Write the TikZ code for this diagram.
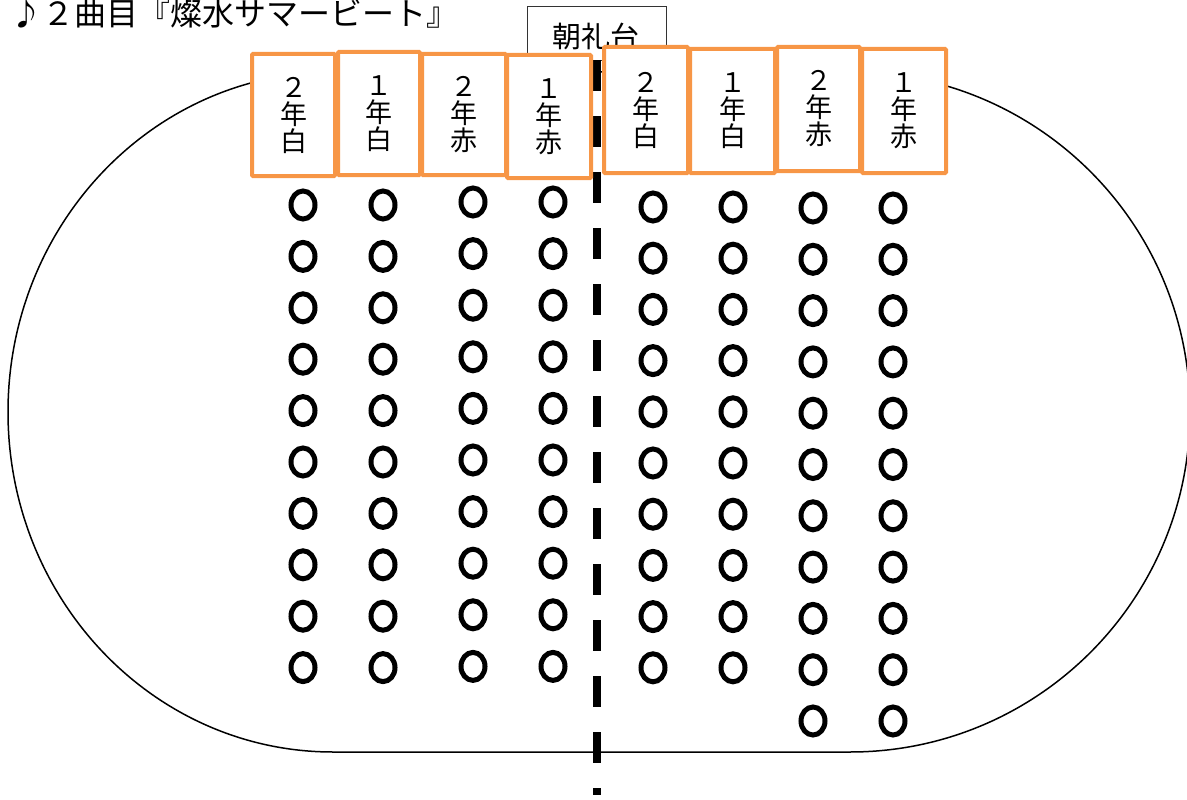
\documentclass[tikz,border=0pt]{standalone}
\usepackage{fontspec}
\setmainfont{Noto Sans CJK JP}
\usetikzlibrary{shapes.geometric}
\definecolor{boxorange}{HTML}{F79646}
\tikzset{
  track/.style={draw=black, line width=1.5pt},
  stage/.style={draw=black!80, line width=1pt, fill=white, minimum width=139pt, minimum height=54pt, inner sep=0pt},
  grp/.style={draw=boxorange, line width=4pt, fill=white, rounded corners=1pt, inner sep=0pt, align=center, font=\fontsize{27}{27}\selectfont},
  seat/.style={draw=black, line width=5pt, ellipse, minimum width=24pt, minimum height=28pt, inner sep=0pt},
  divider/.style={draw=black, line width=8pt, dash pattern=on 31pt off 25pt}
}
\begin{document}
\begin{tikzpicture}[x=1pt, y=-1pt]
\useasboundingbox (0,0) rectangle (1187,800);
% track
\draw[track] (333,72) arc[start angle=270, end angle=90, x radius=325, y radius=340]
  -- (850,752) arc[start angle=90, end angle=-90, x radius=340, y radius=340] -- cycle;
% title
\node[anchor=base west, inner sep=0pt, font=\fontsize{32}{32}\selectfont] (title) at (10,26) {♪２曲目『燦水サマービート』};
% stage
\node[stage, anchor=north west] (stage) at (527,6) {};
\node[inner sep=0pt, font=\fontsize{29}{29}\selectfont] (stagelabel) at (596,36) {朝礼台};
% divider
\coordinate (dtop) at (597,60);
\coordinate (dbot) at (597,795);
\draw[divider] (dtop) -- (dbot);
% group boxes
\node[grp, minimum width=83pt, minimum height=122pt] (b1) at (293.5,115) {２\\年\\白};
\node[grp, minimum width=82pt, minimum height=123pt] (b2) at (379,113.5) {１\\年\\白};
\node[grp, minimum width=84pt, minimum height=121pt] (b3) at (464,114.5) {２\\年\\赤};
\node[grp, minimum width=84pt, minimum height=123pt] (b4) at (549,116.5) {１\\年\\赤};
\node[grp, minimum width=84pt, minimum height=126pt] (b5) at (646,110) {２\\年\\白};
\node[grp, minimum width=85pt, minimum height=124pt] (b6) at (732.5,111) {１\\年\\白};
\node[grp, minimum width=83pt, minimum height=124pt] (b7) at (818.5,109) {２\\年\\赤};
\node[grp, minimum width=84pt, minimum height=124pt] (b8) at (904,111) {１\\年\\赤};
% seats
\foreach \c/\x/\y/\s/\n in {1/303/205/51.4/10, 2/383/205/51.4/10, 3/473/202/51.6/10, 4/553/202/51.6/10,
                            5/653/207/51.2/10, 6/733/207/51.2/10, 7/813/208/51.3/11, 8/893/208/51.3/11}{
  \foreach \r in {1,...,\n}{
    \node[seat] (s\c-\r) at (\x, {\y+(\r-1)*\s}) {};
  }
}
\end{tikzpicture}
\end{document}
